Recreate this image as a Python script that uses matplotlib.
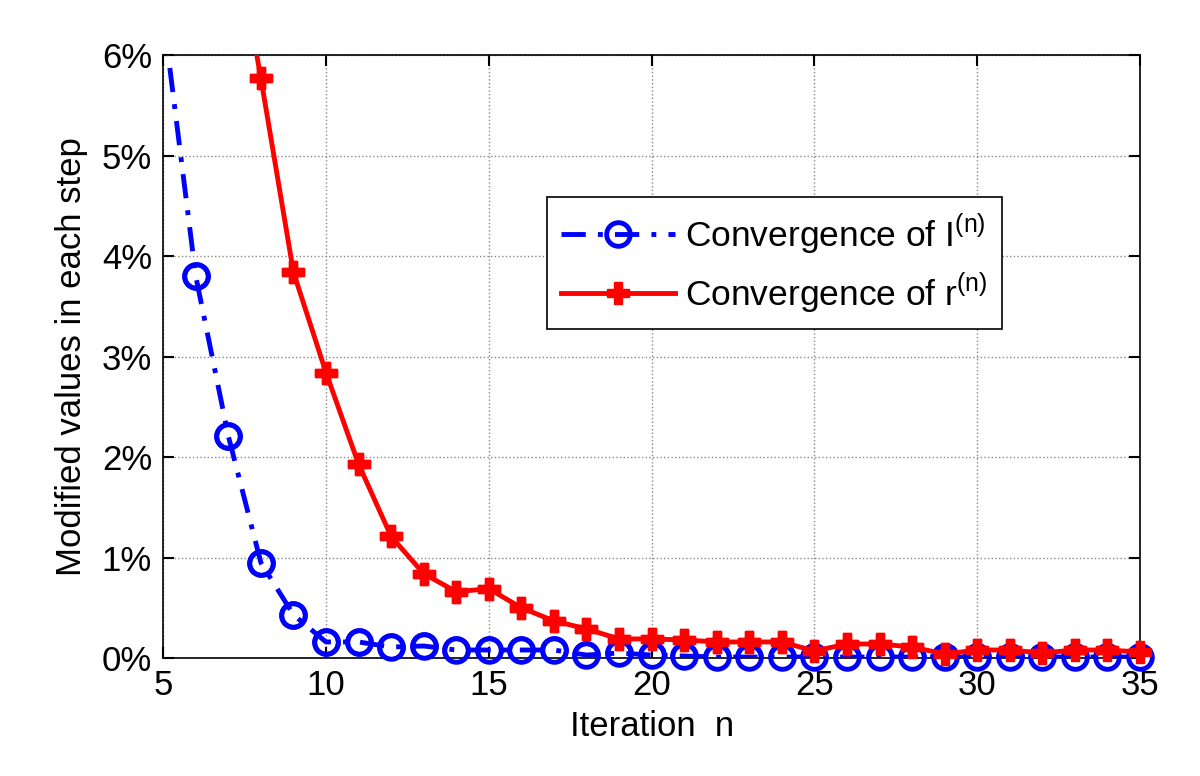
import matplotlib
matplotlib.use("Agg")
import matplotlib.pyplot as plt
from matplotlib.ticker import FuncFormatter

plt.rcParams['font.family'] = ['Liberation Sans', 'DejaVu Sans']
plt.rcParams['mathtext.fontset'] = 'custom'
plt.rcParams['mathtext.rm'] = 'Liberation Sans'

iter_I = list(range(5, 36))
conv_I = [6.4, 3.8, 2.21, 0.95, 0.43, 0.16, 0.16, 0.11, 0.12, 0.08, 0.08, 0.08, 0.08,
          0.03, 0.05, 0.03, 0.02, 0.01, 0.01, 0.01, 0.01, 0.01, 0.01, 0.01, 0.01,
          0.01, 0.01, 0.01, 0.01, 0.01, 0.01]

iter_r = list(range(7, 36))
conv_r = [7.6, 5.77, 3.84, 2.84, 1.93, 1.21, 0.84, 0.66, 0.69, 0.5, 0.37, 0.29, 0.19,
          0.19, 0.18, 0.16, 0.16, 0.16, 0.07, 0.14, 0.14, 0.11, 0.04, 0.08, 0.08,
          0.05, 0.08, 0.08, 0.06]

x_ticks = [5, 10, 15, 20, 25, 30, 35]
y_ticks = [0, 1, 2, 3, 4, 5, 6]
y_max = 6

fig = plt.figure(figsize=(12, 7.76), dpi=100)
ax = fig.add_axes([0.136, 0.152, 0.814, 0.777])

ax.plot(iter_I, conv_I, color='#0000ff', linestyle=(0, (5, 2.5, 1, 2.5)), linewidth=3.5,
        marker='o', markersize=17, markerfacecolor='none', markeredgewidth=3.5,
        label=r'Convergence of I$^{\mathregular{(n)}}$', zorder=3)
# unclipped markers for points inside the visible range (they overhang the bottom axis)
vis = [(x, y) for x, y in zip(iter_I, conv_I) if y <= y_max]
ax.plot([p[0] for p in vis], [p[1] for p in vis], linestyle='none',
        marker='o', markersize=17, markerfacecolor='none', markeredgewidth=3.5,
        color='#0000ff', clip_on=False, zorder=3)

ax.plot(iter_r, conv_r, color='#ff0000', linestyle='-', linewidth=3.5,
        marker='P', markersize=16, markeredgewidth=1,
        label=r'Convergence of r$^{\mathregular{(n)}}$', zorder=4)
vis_r = [(x, y) for x, y in zip(iter_r, conv_r) if y <= y_max]
ax.plot([p[0] for p in vis_r], [p[1] for p in vis_r], linestyle='none',
        marker='P', markersize=16, markeredgewidth=1, color='#ff0000',
        clip_on=False, zorder=4)

ax.set_xlim(5, 35)
ax.set_ylim(0, y_max)
ax.set_xticks(x_ticks)
ax.set_yticks(y_ticks)
ax.yaxis.set_major_formatter(FuncFormatter(lambda v, p: f"{int(round(v))}%"))
ax.grid(True, color='#888888', linestyle=':', linewidth=1)
ax.tick_params(direction='in', length=8, width=1.5, top=True, right=True,
               labelsize=25, pad=8)
for s in ax.spines.values():
    s.set_linewidth(1.2)

ax.set_xlabel('Iteration  n', fontsize=25, labelpad=6)
ax.set_ylabel('Modified values in each step', fontsize=25, labelpad=10)

leg = ax.legend(loc='upper left', bbox_to_anchor=(0.393, 0.765), fontsize=25.5,
                frameon=True, fancybox=False, edgecolor='black', framealpha=1,
                handlelength=3.2, borderpad=0.4, labelspacing=0.4, handletextpad=0.3,
                borderaxespad=0)
leg.get_frame().set_linewidth(1.2)

fig.savefig('out.png', dpi=100)
